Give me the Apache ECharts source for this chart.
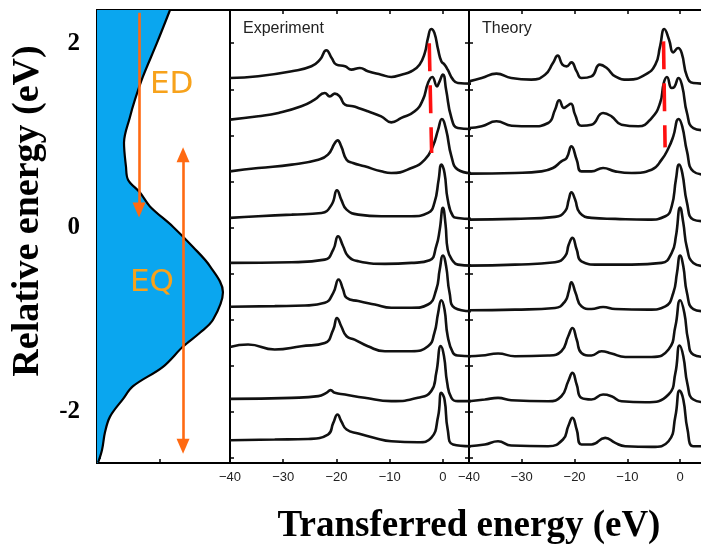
<!DOCTYPE html>
<html>
<head>
<meta charset="utf-8">
<script src="https://cdn.jsdelivr.net/npm/echarts@6/dist/echarts.min.js"></script>
<style>
  html, body { margin: 0; padding: 0; background: #fff; }
  #chart { width: 701px; height: 548px; }
</style>
</head>
<body>
<div id="chart"></div>
<script>
// density of states (left panel): relative energy (eV) vs. weight (a.u.)
const dosEnergy = [2.36, 2.0, 1.64, 1.39, 1.20, 0.92, 0.66, 0.52, 0.38, 0.23, 0.01, -0.21, -0.42, -0.70, -1.0, -1.14, -1.29, -1.51, -1.72, -1.86, -2.05, -2.22, -2.41, -2.55];
const dosValue = [0.549, 0.45, 0.346, 0.286, 0.248, 0.203, 0.218, 0.233, 0.323, 0.398, 0.571, 0.722, 0.85, 0.947, 0.872, 0.774, 0.647, 0.496, 0.271, 0.195, 0.098, 0.06, 0.038, 0.008];

// spectra: [transferred energy (eV), intensity (a.u.)], stacked at the offsets below (eV)
const expOffsets = [1.623, 1.171, 0.610, 0.105, -0.383, -0.859, -1.287, -1.857, -2.306];
const expSpectra = [
  [[-40,0],[-34.7,1.7],[-28.4,6.7],[-24.7,11.7],[-23.1,18.3],[-21.9,27.7],[-20.9,20],[-20,13.3],[-18.4,11.7],[-17.2,8.3],[-15.6,10],[-14.1,6.7],[-11.6,3.3],[-9.7,1],[-7.8,3.3],[-5.9,6.7],[-4.4,13.3],[-3.4,25],[-2.8,40],[-2.2,49],[-1.6,45],[-0.9,28.3],[-0.3,16.7],[0.3,13.3],[0.9,8.3],[1.9,-1.7],[2.8,-5],[5.3,-5.7]],
  [[-40,0],[-34.7,3.3],[-30.9,6.7],[-26.6,13.3],[-24.1,20],[-22.2,26.7],[-21.25,23.3],[-20.3,26],[-19.4,23.3],[-18.4,15],[-16.9,13.3],[-15.9,11.7],[-14.1,8.3],[-11.6,3.3],[-9.7,-2.7],[-7.8,1.7],[-5.3,8.3],[-3.75,20],[-2.8,36.7],[-2.0,42.7],[-1.1,33.3],[-0.75,36.7],[0,45],[0.6,30],[1.6,1.7],[2.8,-8.3],[5.3,-9.3]],
  [[-40,0],[-34.7,3.3],[-28.4,6.7],[-23.4,11.7],[-21.6,16.7],[-20.3,28.3],[-19.8,31],[-19.1,25],[-18.1,11.7],[-16.9,8.3],[-14.7,5],[-11.6,0],[-9.7,-1.7],[-5.9,3.3],[-3.4,11.7],[-1.9,25],[-0.9,41.7],[-0.2,52.3],[0.6,41.7],[1.6,15],[2.8,1.7],[5.3,-1.7]],
  [[-40,0],[-34.7,1.7],[-28.4,3.3],[-22.8,5],[-20.9,13.3],[-19.9,27.7],[-19.1,18.3],[-18.1,8.3],[-15.9,3.3],[-11.6,1.7],[-5.9,1.7],[-2.8,5],[-1.6,15],[-0.8,38.3],[-0.3,53.3],[0.3,45],[0.9,18.3],[1.9,1.7],[2.8,0],[5.3,-1]],
  [[-40,0],[-28.4,0.7],[-22.2,3.3],[-20.6,13.3],[-19.7,26.7],[-18.75,16.7],[-17.8,6.7],[-15.9,1.7],[-10.9,-1],[-5.9,0],[-2.5,2.7],[-1.25,16.7],[-0.6,33.3],[0,55],[0.5,38],[0.9,13.3],[1.9,1.7],[2.8,-1.7],[5.3,-2.7]],
  [[-40,0],[-31.6,0.7],[-25.9,1.3],[-22.2,4],[-20.6,14],[-19.6,27.3],[-18.75,17.3],[-18.1,9],[-15.9,5.7],[-12.8,2.3],[-9.7,-1],[-5.9,-1],[-2.8,2.3],[-1.25,17.3],[-0.6,37.3],[0,51.3],[0.6,40.7],[1.25,14],[2.2,-1],[5.3,-4.3]],
  [[-40,-0.7],[-36.6,1.7],[-31.6,-3.3],[-26.6,0],[-22.2,3.3],[-20.6,16.7],[-19.9,28.3],[-19.1,20],[-18.1,10],[-16.6,6.7],[-14.1,0],[-10.9,-5],[-5.9,-5],[-2.8,0],[-1.6,13.3],[-0.9,33.3],[-0.3,46],[0.3,36.7],[0.9,10],[1.9,-6.7],[2.8,-9.3],[5.3,-10]],
  [[-40,0],[-28.4,1],[-23.4,2.7],[-21.9,6],[-21.1,8.7],[-20.3,6],[-18.4,4.3],[-14.7,1],[-9.7,-2.3],[-4.7,1],[-2.2,7.7],[-1.25,26],[-0.4,52.7],[0.2,42.7],[0.8,16],[1.6,1],[2.8,-2.3],[5.3,-2.3]],
  [[-40,0],[-31.6,0.7],[-25.3,1.3],[-21.6,5.7],[-20.6,17.3],[-19.8,25.7],[-19.1,19],[-18.1,10.7],[-15.9,6.7],[-12.8,2.3],[-9.7,-1],[-4.7,-2],[-2.2,2.3],[-0.9,24],[-0.3,47.3],[0.3,40.7],[0.9,10.7],[1.9,-4.3],[5.3,-6]]
];

const theoryOffsets = [1.586, 1.080, 0.585, 0.087, -0.412, -0.897, -1.395, -1.883, -2.371];
const theorySpectra = [
  [[-40,0],[-37.6,3.3],[-34.8,7.7],[-32.0,3.3],[-28.2,1.7],[-25.6,6.7],[-24.1,18.3],[-23.2,25.7],[-22.3,16.7],[-21.5,15],[-20.6,19],[-19.6,10],[-18.7,3.3],[-16.8,5],[-15.2,16.7],[-13.9,13.3],[-12.3,5],[-9.8,1.7],[-6.6,6.7],[-4.7,16.7],[-3.8,35],[-3.0,52.3],[-2.1,41.7],[-1.3,29],[-0.4,33.3],[0.3,28.3],[1.3,5],[2.5,-1.7],[4.9,-2.3]],
  [[-40,0],[-37.6,1.7],[-34.8,6.7],[-31.9,2.3],[-28.2,1.7],[-25.0,5],[-23.7,18.3],[-22.9,27.7],[-22.0,20],[-21.5,21.7],[-20.7,24.3],[-19.9,13.3],[-18.7,2.3],[-16.8,3.3],[-14.6,15],[-13.0,11.7],[-11.1,3.3],[-7.9,1.7],[-5.4,10],[-3.8,25],[-3.1,45],[-2.5,51],[-1.6,40],[-1.1,41],[-0.3,50],[0.4,41.7],[1.3,15],[2.5,0],[4.9,-2.3]],
  [[-40,0],[-31.3,0.7],[-26.3,2.3],[-24.1,5.7],[-22.5,12.3],[-21.5,15.7],[-20.6,27.3],[-19.6,14],[-18.7,2.3],[-16.8,2.3],[-14.6,5.7],[-12.3,2.3],[-9.2,0.7],[-5.4,4],[-3.5,14],[-2.2,25.7],[-1.3,37.3],[-0.3,54.7],[0.4,47.3],[1.3,22.3],[2.5,2.3],[4.9,-1]],
  [[-40,0],[-31.3,0.7],[-23.7,2.7],[-21.8,8.3],[-21.1,20],[-20.6,27.3],[-19.9,20],[-19.0,6.7],[-16.8,1.7],[-12.3,0.7],[-6.0,0],[-2.8,3.3],[-1.6,13.3],[-0.8,40],[-0.2,55],[0.4,46.7],[1.3,16.7],[2.5,0],[4.9,-1.7]],
  [[-40,0],[-31.3,1],[-23.7,3.3],[-21.8,9.3],[-21.1,21],[-20.4,27.7],[-19.6,16],[-18.7,4.3],[-15.5,1],[-9.2,1],[-3.5,2.7],[-1.6,12.7],[-0.8,29.3],[0,58],[0.6,42.7],[1.3,17.7],[2.5,2.7],[4.9,-0.7]],
  [[-40,0],[-31.3,0.7],[-23.7,2.3],[-21.8,9],[-21.1,19],[-20.6,28],[-19.8,17.3],[-18.7,4],[-16.8,1.3],[-14.6,3.3],[-12.3,1.3],[-6.0,0.7],[-2.8,4],[-1.3,17.3],[-0.6,37.3],[0,54.7],[0.6,44],[1.3,17.3],[2.5,1.3],[4.9,-1]],
  [[-40,0],[-37.6,0.7],[-34.5,2.7],[-31.3,0],[-25.0,0.7],[-22.5,5],[-21.2,20],[-20.4,28.3],[-19.6,16.7],[-18.7,3.3],[-16.8,0.7],[-14.9,5],[-13.0,2.7],[-10.4,-0.7],[-5.4,-0.7],[-2.2,6.7],[-0.9,30],[0,56],[0.8,43.3],[1.5,16.7],[2.5,1.7],[4.9,-0.7]],
  [[-40,0],[-37.0,1.7],[-34.5,3.3],[-32.0,1],[-25.0,0],[-22.5,5],[-21.2,20],[-20.4,28.3],[-19.6,16.7],[-18.7,3.3],[-16.8,1.7],[-14.6,6.7],[-13.0,5],[-11.1,0],[-6.6,-1],[-2.2,6.7],[-0.9,28.3],[-0.1,55.7],[0.6,45],[1.4,16.7],[2.5,1.7],[4.9,-1]],
  [[-40,0],[-37.0,1.7],[-34.5,5],[-32.0,0.7],[-25.0,0],[-22.2,6.7],[-21.2,20],[-20.4,28.3],[-19.6,16.7],[-18.7,1.7],[-16.8,1.7],[-14.2,8.3],[-12.3,3.3],[-10.4,0],[-5.4,-0.7],[-2.2,5],[-0.9,30],[-0.1,55.7],[0.6,46.7],[1.4,16.7],[2.5,0],[4.9,0]]
];

// annotations: [x, energy] end points
const edArrow = [[0.316, 2.33], [0.316, 0.19]];
const eqArrow = [[0.647, 0.79], [0.647, -2.37]];
const expDash = [[-2.57, 2.0], [-2.12, 0.81]];
const theoryDash = [[-3.15, 2.02], [-2.85, 0.87]];

const xTicks = [-40, -30, -20, -10, 0];
const yTickLabels = [-2, 0, 2];
const yTicks = [-2.5, -2, -1.5, -1, -0.5, 0, 0.5, 1, 1.5, 2];

const E_MIN = -2.553, E_MAX = 2.36;
const intensityToEV = 1 / 92.2;

let myChart = echarts.init(document.getElementById('chart'));

const minus = v => (v < 0 ? '\u2212' + Math.abs(v) : String(v));

function frameY(gridIndex, position) {
  return {
    type: 'value', gridIndex: gridIndex, position: position,
    min: E_MIN, max: E_MAX,
    axisLine: { show: false, onZero: false },
    axisTick: { show: true, inside: true, length: 4, customValues: yTicks, lineStyle: { color: '#000', width: 1.5 } },
    axisLabel: { show: false },
    splitLine: { show: false }
  };
}

function energyX(gridIndex, position, showLabel) {
  return {
    type: 'value', gridIndex: gridIndex, position: position,
    min: -40, max: 4.9, interval: 10,
    axisLine: { show: false, onZero: false },
    axisTick: { show: true, inside: true, length: 4, customValues: xTicks, lineStyle: { color: '#000', width: 1.5 } },
    axisLabel: {
      show: showLabel, customValues: xTicks, margin: 8,
      color: '#222', fontSize: 13, fontFamily: 'Liberation Sans',
      formatter: minus
    },
    splitLine: { show: false }
  };
}

const spectrumSeries = (curves, offsets, xIdx, yIdx) => curves.map((pts, i) => ({
  type: 'line', xAxisIndex: xIdx, yAxisIndex: yIdx,
  data: pts.map(p => [p[0], offsets[i] + p[1] * intensityToEV]),
  showSymbol: false, smooth: 0.5,
  lineStyle: { color: '#111', width: 2.6 },
  silent: true, z: 3
}));

const dashSeries = (pts, xIdx, yIdx) => ({
  type: 'line', xAxisIndex: xIdx, yAxisIndex: yIdx,
  data: pts, showSymbol: false,
  lineStyle: { color: '#ff1010', width: 3.6, type: [28, 14] },
  silent: true, z: 5
});

const gridBase = { top: 10, height: 453, show: true, borderColor: '#000', borderWidth: 2, backgroundColor: 'transparent', outerBoundsMode: 'none', containLabel: false };

const option = {
  animation: false,
  backgroundColor: '#fff',
  grid: [
    Object.assign({ left: 97, width: 133 }, gridBase),
    Object.assign({ left: 230, width: 239 }, gridBase),
    Object.assign({ left: 469, width: 237 }, gridBase)
  ],
  xAxis: [
    {
      type: 'value', gridIndex: 0, min: 0, max: 1,
      axisLine: { show: false, onZero: false },
      axisTick: { show: true, inside: true, length: 4, customValues: [0.47], lineStyle: { color: '#000', width: 1.5 } },
      axisLabel: { show: false }, splitLine: { show: false }
    },
    energyX(1, 'bottom', true),
    energyX(1, 'top', false),
    energyX(2, 'bottom', true),
    energyX(2, 'top', false)
  ],
  yAxis: [
    {
      type: 'value', gridIndex: 0, position: 'left',
      min: E_MIN, max: E_MAX,
      axisLine: { show: false, onZero: false },
      axisTick: { show: true, inside: true, length: 4, customValues: yTicks, lineStyle: { color: '#000', width: 1.5 } },
      axisLabel: {
        show: true, customValues: yTickLabels, margin: 17,
        color: '#000', fontSize: 25, fontWeight: 700, fontFamily: 'Liberation Serif'
      },
      splitLine: { show: false }
    },
    frameY(1, 'left'),
    frameY(1, 'right'),
    frameY(2, 'left')
  ],
  series: [
    {
      // filled density of states
      type: 'custom', xAxisIndex: 0, yAxisIndex: 0,
      data: [0], silent: true, z: 1, clip: true,
      renderItem: (params, api) => {
        const points = dosEnergy.map((e, i) => api.coord([dosValue[i], e]));
        points.push(api.coord([-0.3, E_MIN - 0.4]));
        points.push(api.coord([-0.3, E_MAX + 0.4]));
        points.push(api.coord([dosValue[0] + 0.1, E_MAX + 0.4]));
        return { type: 'polygon', shape: { points: points, smooth: 0.35 }, style: { fill: '#0aa6ef' } };
      }
    },
    {
      type: 'line', xAxisIndex: 0, yAxisIndex: 0,
      data: dosEnergy.map((e, i) => [dosValue[i], e]),
      showSymbol: false, smooth: 0.35,
      lineStyle: { color: '#000', width: 2.2 },
      silent: true, z: 2,
      markLine: {
        silent: true, animation: false,
        label: { show: false },
        symbolSize: [13, 15],
        lineStyle: { color: '#ff6a12', width: 2.6, type: 'solid' },
        data: [
          [{ coord: edArrow[0], symbol: 'none' }, { coord: edArrow[1], symbol: 'triangle' }],
          [{ coord: eqArrow[0], symbol: 'triangle' }, { coord: eqArrow[1], symbol: 'triangle' }]
        ]
      }
    },
    ...spectrumSeries(expSpectra, expOffsets, 1, 1),
    ...spectrumSeries(theorySpectra, theoryOffsets, 3, 3),
    dashSeries(expDash, 1, 1),
    dashSeries(theoryDash, 3, 3)
  ],
  graphic: [
    { type: 'text', x: 243, y: 21, style: { text: 'Experiment', fill: '#222', font: '16px "Liberation Sans"' } },
    { type: 'text', x: 482, y: 21, style: { text: 'Theory', fill: '#222', font: '16px "Liberation Sans"' } },
    { type: 'text', x: 150, y: 85, style: { text: 'ED', fill: '#f7a21b', font: '31px "DejaVu Sans"', verticalAlign: 'middle' }, z: 10 },
    { type: 'text', x: 130, y: 283, style: { text: 'EQ', fill: '#f7a21b', font: '31px "DejaVu Sans"', verticalAlign: 'middle' }, z: 10 },
    {
      type: 'text', x: 28, y: 211, rotation: Math.PI / 2,
      style: { text: 'Relative energy (eV)', fill: '#000', font: 'bold 38px "Liberation Serif"', align: 'center', verticalAlign: 'middle' }
    },
    {
      type: 'text', x: 469, y: 526,
      style: { text: 'Transferred energy (eV)', fill: '#000', font: 'bold 37px "Liberation Serif"', align: 'center', verticalAlign: 'middle' }
    }
  ]
};

myChart.setOption(option, true);

window.addEventListener('resize', () => {
  myChart.resize();
});
</script>
</body>
</html>
